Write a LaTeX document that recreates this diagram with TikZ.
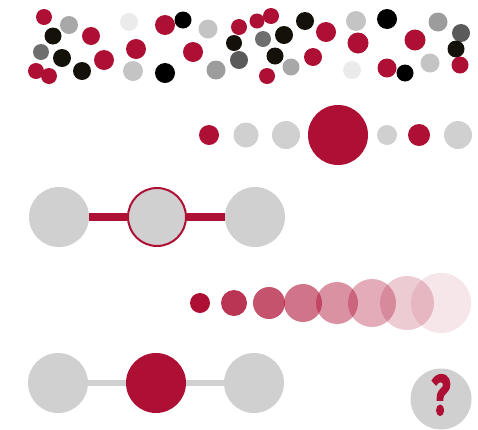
\documentclass[tikz,border=0pt]{standalone}
\usepackage{fontspec}
\newfontfamily\askfont[BoldFeatures={FakeBold=2.5}]{Fira Sans}
\definecolor{crimson}{HTML}{AE1035}
\definecolor{pale}{HTML}{D0D0D0}
\definecolor{mist}{HTML}{EBEBEB}
\definecolor{silver}{HTML}{C4C4C4}
\definecolor{ash}{HTML}{A8A8A8}
\definecolor{stone}{HTML}{9C9C9C}
\definecolor{slate}{HTML}{6E6E6E}
\definecolor{coal}{HTML}{5A5A5A}
\definecolor{ink}{HTML}{131109}
\tikzset{
  dot/.style={circle, inner sep=0pt, draw=none, minimum size=#1},
  dot/.default=18pt
}
\begin{document}
\begin{tikzpicture}[x=1pt, y=-1pt, node distance = 98pt]
    \useasboundingbox (0,0) rectangle (478,429);

    % cloud of dots
    \node (c1) [dot=16pt, fill=crimson] at (44,17) {};
    \node (c2) [dot=18pt, fill=ash] at (69,25) {};
    \node (c3) [dot=17pt, fill=ink] at (53,36) {};
    \node (c4) [dot=18pt, fill=crimson] at (91,36) {};
    \node (c5) [dot=16pt, fill=slate] at (41,52) {};
    \node (c6) [dot=18pt, fill=ink] at (62,58) {};
    \node (c7) [dot=20pt, fill=crimson] at (104,60) {};
    \node (c8) [dot=16pt, fill=crimson] at (36,71) {};
    \node (c9) [dot=16pt, fill=crimson] at (49,76) {};
    \node (c10) [dot=18pt, fill=ink] at (82,71) {};
    \node (c11) [dot=18pt, fill=mist] at (129,22) {};
    \node (c12) [dot=20pt, fill=crimson] at (136,49) {};
    \node (c13) [dot=20pt, fill=silver] at (133,71) {};
    \node (c14) [dot=20pt, fill=crimson] at (165,25) {};
    \node (c15) [dot=17pt, fill=black] at (183,20) {};
    \node (c16) [dot=20pt, fill=crimson] at (193,52) {};
    \node (c17) [dot=19pt, fill=silver] at (208,29) {};
    \node (c18) [dot=20pt, fill=black] at (165,73) {};
    \node (c19) [dot=19pt, fill=stone] at (216,70) {};
    \node (c20) [dot=16pt, fill=crimson] at (239,27) {};
    \node (c21) [dot=16pt, fill=ink] at (234,43) {};
    \node (c22) [dot=18pt, fill=coal] at (239,60) {};
    \node (c23) [dot=15pt, fill=crimson] at (257,21) {};
    \node (c24) [dot=16pt, fill=crimson] at (271,16) {};
    \node (c25) [dot=16pt, fill=slate] at (263,39) {};
    \node (c26) [dot=18pt, fill=ink] at (284,35) {};
    \node (c27) [dot=18pt, fill=ink] at (305,21) {};
    \node (c28) [dot=20pt, fill=crimson] at (326,32) {};
    \node (c29) [dot=17pt, fill=ink] at (275,56) {};
    \node (c30) [dot=17pt, fill=ash] at (291,67) {};
    \node (c31) [dot=18pt, fill=crimson] at (313,57) {};
    \node (c32) [dot=16pt, fill=crimson] at (267,76) {};
    \node (c33) [dot=20pt, fill=silver] at (356,21) {};
    \node (c34) [dot=21pt, fill=crimson] at (358,43) {};
    \node (c35) [dot=18pt, fill=mist] at (352,70) {};
    \node (c36) [dot=20pt, fill=black] at (387,19) {};
    \node (c37) [dot=21pt, fill=crimson] at (415,40) {};
    \node (c38) [dot=19pt, fill=crimson] at (387,68) {};
    \node (c39) [dot=17pt, fill=black] at (405,73) {};
    \node (c40) [dot=19pt, fill=silver] at (430,63) {};
    \node (c41) [dot=19pt, fill=stone] at (438,22) {};
    \node (c42) [dot=18pt, fill=coal] at (461,33) {};
    \node (c43) [dot=17pt, fill=ink] at (456,49) {};
    \node (c44) [dot=17pt, fill=crimson] at (460,65) {};

    % row of single dots
    \node (s1) [dot=20pt, fill=crimson] at (209,135) {};
    \node (s2) [dot=25pt, fill=pale] at (246,135) {};
    \node (s3) [dot=28pt, fill=pale] at (286,135) {};
    \node (s4) [dot=60pt, fill=crimson] at (338,135) {};
    \node (s5) [dot=20pt, fill=pale] at (387,135) {};
    \node (s6) [dot=22pt, fill=crimson] at (419,135) {};
    \node (s7) [dot=28pt, fill=pale] at (458,135) {};

    % linked, red bar
    \node (a1) [dot=60pt, fill=pale] at (59,217) {};
    \node (a2) [right of=a1, dot=58pt, fill=pale, draw=crimson, line width=2pt] {};
    \node (a3) [right of=a2, dot=60pt, fill=pale] {};

    % fading row
    \node (f1) [dot=20pt, fill=crimson] at (200,303) {};
    \node (f2) [dot=26pt, fill=crimson, fill opacity=.85] at (234,303) {};
    \node (f3) [dot=32pt, fill=crimson, fill opacity=.72] at (269,303) {};
    \node (f4) [dot=38pt, fill=crimson, fill opacity=.58] at (303,303) {};
    \node (f5) [dot=42pt, fill=crimson, fill opacity=.46] at (337,303) {};
    \node (f6) [dot=48pt, fill=crimson, fill opacity=.35] at (372,303) {};
    \node (f7) [dot=54pt, fill=crimson, fill opacity=.22] at (407,303) {};
    \node (f8) [dot=60pt, fill=crimson, fill opacity=.11] at (441,303) {};

    % linked, gray bar
    \node (b1) [dot=60pt, fill=pale] at (58,383) {};
    \node (b2) [right of=b1, dot=60pt, fill=crimson] {};
    \node (b3) [right of=b2, dot=60pt, fill=pale] {};

    \node (ask) [dot=61pt, fill=pale] at (441,399) {};
    \node (mark) [inner sep=0pt, text=crimson, font=\askfont\bfseries\fontsize{56}{56}\selectfont] at ([yshift=4pt]ask.center) {\scalebox{0.7}[1]{?}};

    \path [-] (a1) edge [crimson, line width=8pt] (a2)
              (a2) edge [crimson, line width=8pt] (a3)
              (b1) edge [pale, line width=5.5pt] (b2)
              (b2) edge [pale, line width=5.5pt] (b3);
\end{tikzpicture}
\end{document}
